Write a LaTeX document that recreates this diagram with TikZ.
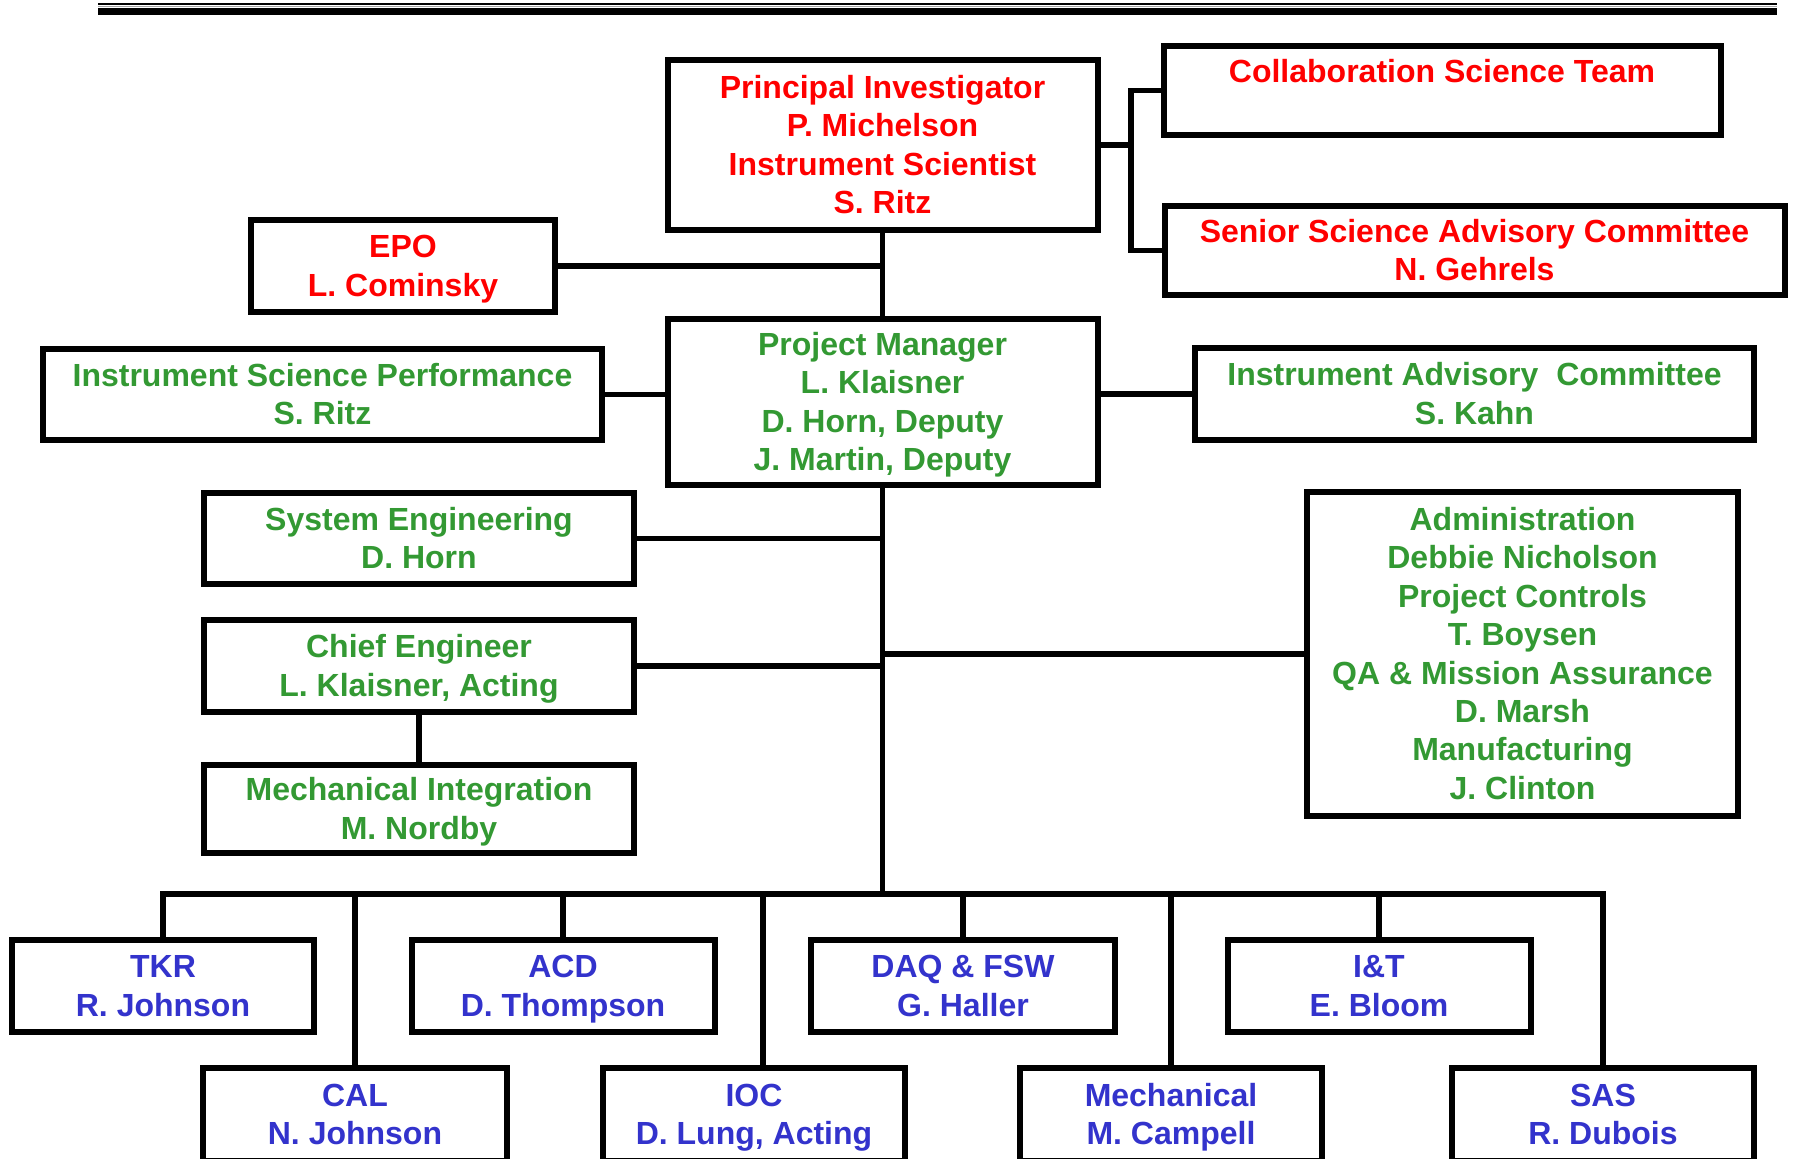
\documentclass[tikz,border=0pt]{standalone}
\usepackage{fontspec}
\setmainfont{Liberation Sans}
\definecolor{cred}{RGB}{255,0,0}
\definecolor{cgreen}{RGB}{51,153,51}
\definecolor{cblue}{RGB}{51,51,204}
\newcommand\tA{\rule[-3.5pt]{0pt}{18pt}}
\tikzset{
  box/.style={draw=black, line width=3pt, fill=white, rectangle, inner sep=0pt,
    align=center, font=\fontsize{16}{19.2}\selectfont\bfseries,
    execute at end node=\rule[-3.5pt]{0pt}{18pt}},
  rbox/.style={box, text=cred},
  gbox/.style={box, text=cgreen},
  bbox/.style={box, text=cblue},
  conn/.style={line width=2.8pt, draw=black}
}
\begin{document}
\begin{tikzpicture}[x=0.5pt,y=-0.5pt]
\useasboundingbox (0,0) rectangle (1795,1159);
% top rules
\draw[line width=1pt] (98,4) -- (1777,4);
\draw[line width=0.4pt, black!35] (98,6.2) -- (1777,6.2);
\draw[line width=3.5pt] (98,11.5) -- (1777,11.5);

% red boxes
\node[rbox, minimum width=215pt, minimum height=85pt] (pi) at (882.5,145)
  {\tA Principal Investigator\\P. Michelson\\Instrument Scientist\\S. Ritz};
\node[rbox, minimum width=278.5pt, minimum height=44.5pt] (collab) at (1442,90.5)
  {\tA Collaboration Science Team\\\mbox{}};
\node[rbox, minimum width=310pt, minimum height=44.5pt] (ssac) at (1474.5,250.5)
  {\tA Senior Science Advisory Committee\\N. Gehrels};
\node[rbox, minimum width=152pt, minimum height=46pt] (epo) at (403,266)
  {\tA EPO\\L. Cominsky};

% green boxes
\node[gbox, minimum width=215pt, minimum height=83pt] (pm) at (882.5,402)
  {\tA Project Manager\\L. Klaisner\\D. Horn, Deputy\\J. Martin, Deputy};
\node[gbox, minimum width=279.5pt, minimum height=45.5pt] (isp) at (322.5,394.5)
  {\tA Instrument Science Performance\\S. Ritz};
\node[gbox, minimum width=279.5pt, minimum height=46pt] (iac) at (1474.5,394)
  {\tA Instrument Advisory\ \ Committee\\S. Kahn};
\node[gbox, minimum width=215pt, minimum height=45.5pt] (sys) at (419,538.5)
  {\tA System Engineering\\D. Horn};
\node[gbox, minimum width=215pt, minimum height=46pt] (chief) at (419,666)
  {\tA Chief Engineer\\L. Klaisner, Acting};
\node[gbox, minimum width=215pt, minimum height=44pt] (mech) at (419,809)
  {\tA Mechanical Integration\\M. Nordby};
\node[gbox, minimum width=215.5pt, minimum height=162pt] (admin) at (1522.5,654)
  {\tA Administration\\Debbie Nicholson\\Project Controls\\T. Boysen\\QA \& Mission Assurance\\D. Marsh\\Manufacturing\\J. Clinton};

% blue boxes, row 1
\node[bbox, minimum width=151pt, minimum height=46pt] (tkr) at (163,986) {\tA TKR\\R. Johnson};
\node[bbox, minimum width=151.5pt, minimum height=46pt] (acd) at (563,986) {\tA ACD\\D. Thompson};
\node[bbox, minimum width=152pt, minimum height=46pt] (daq) at (963,986) {\tA DAQ \& FSW\\G. Haller};
\node[bbox, minimum width=151.5pt, minimum height=46pt] (it) at (1379,986) {\tA I\&T\\E. Bloom};
% row 2
\node[bbox, minimum width=152pt, minimum height=46.5pt] (cal) at (355,1114.5) {\tA CAL\\N. Johnson};
\node[bbox, minimum width=151pt, minimum height=46.5pt] (ioc) at (754,1114.5) {\tA IOC\\D. Lung, Acting};
\node[bbox, minimum width=151pt, minimum height=46.5pt] (mechl) at (1171,1114.5) {\tA Mechanical\\M. Campell};
\node[bbox, minimum width=151pt, minimum height=46.5pt] (sas) at (1603,1114.5) {\tA SAS\\R. Dubois};

% connectors
\coordinate (brk) at (1131,145);
\coordinate (bus) at (882.5,894);
\draw[conn] (pi.east) -- (brk);
\draw[conn] (collab.west) -| (brk) |- (ssac.west);
\draw[conn] (pi.south) -- (pm.north);
\draw[conn] (epo.east) -- (epo.east -| pi.south);
\draw[conn] (isp.east) -- (isp.east -| pm.west);
\draw[conn] (iac.west -| pm.east) -- (iac.west);
\draw[conn] (pm.south) -- (bus);
\draw[conn] (sys.east) -- (sys.east -| pm.south);
\draw[conn] (chief.east) -- (chief.east -| pm.south);
\draw[conn] (admin.west) -- (admin.west -| pm.south);
\draw[conn] (chief.south) -- (mech.north);
\draw[conn] (tkr.north) |- (bus);
\draw[conn] (acd.north) |- (bus);
\draw[conn] (daq.north) |- (bus);
\draw[conn] (it.north) |- (bus);
\draw[conn] (cal.north) |- (bus);
\draw[conn] ([xshift=4.35pt]ioc.north) |- (bus);
\draw[conn] (mechl.north) |- (bus);
\draw[conn] (sas.north) |- (bus);
\end{tikzpicture}
\end{document}
